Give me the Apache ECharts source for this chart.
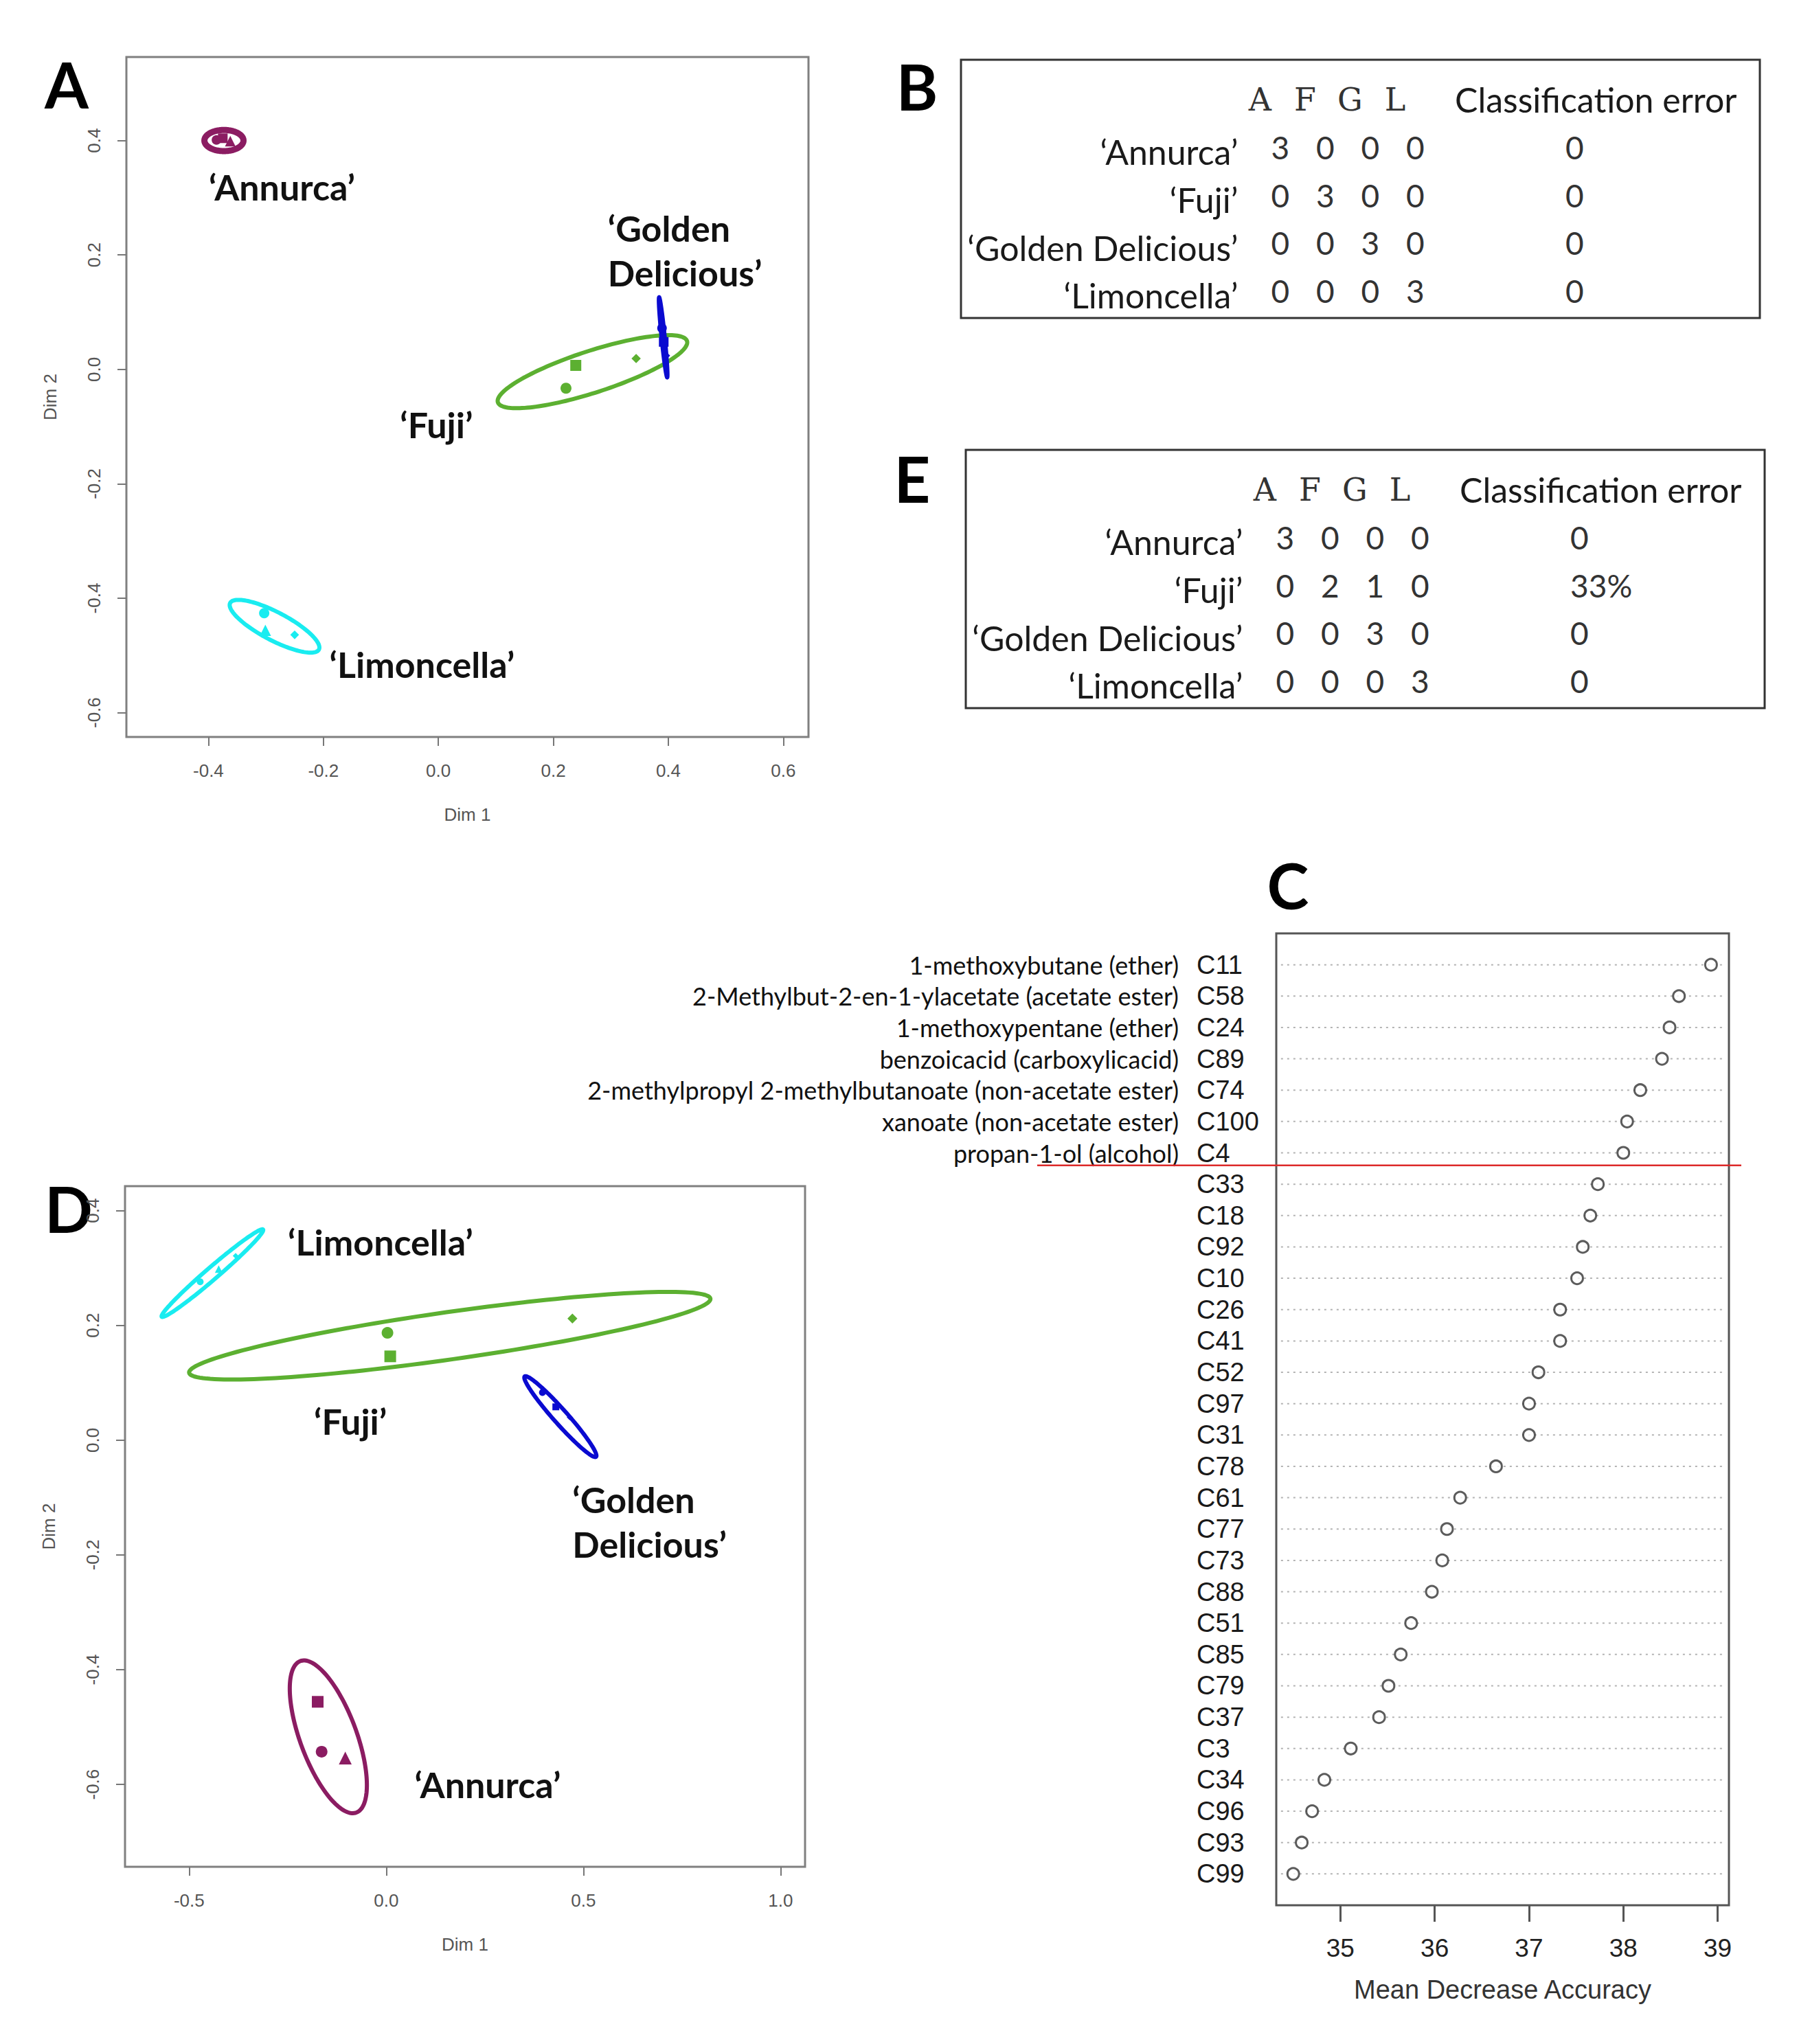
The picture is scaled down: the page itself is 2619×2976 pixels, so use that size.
<!DOCTYPE html>
<html><head><meta charset="utf-8">
<script src="https://cdn.jsdelivr.net/npm/echarts@6/dist/echarts.min.js"></script>
<style>html,body{margin:0;padding:0;background:#fff}#c{width:2619px;height:2976px}</style>
</head><body><div id="c"></div>
<script>
// ================= DATA =================
// Panel A (MDS, Dim 1 / Dim 2) — points and confidence ellipses [cx, cy, majorEndX, majorEndY, minor/major ratio]
const annurcaA_pts = [[-0.386, 0.401], [-0.375, 0.404], [-0.362, 0.399]];
const annurcaA_sym = ['circle', 'rect', 'triangle'];
const fujiA_pts = [[0.239, 0.007], [0.222, -0.033], [0.344, 0.019]];
const fujiA_sym = ['rect', 'circle', 'diamond'];
const goldenA_pts = [[0.389, 0.072], [0.392, 0.048], [0.396, 0.024]];
const goldenA_sym = ['circle', 'rect', 'diamond'];
const limonA_pts = [[-0.303, -0.426], [-0.301, -0.456], [-0.250, -0.464]];
const limonA_sym = ['circle', 'triangle', 'diamond'];
const annurcaA_ell = [-0.373, 0.400, -0.339, 0.400, 0.54];
const fujiA_ell = [0.268, -0.004, 0.4325, 0.0496, 0.21];
const goldenA_ell = [0.391, 0.056, 0.384, 0.126, 0.04];
const limonA_ell = [-0.285, -0.449, -0.2078, -0.4897, 0.28];
const xTicksA = [-0.4, -0.2, 0.0, 0.2, 0.4, 0.6];
const yTicksA = [-0.6, -0.4, -0.2, 0.0, 0.2, 0.4];

// Panel D
const annurcaD_pts = [[-0.174, -0.456], [-0.164, -0.543], [-0.104, -0.554]];
const annurcaD_sym = ['rect', 'circle', 'triangle'];
const fujiD_pts = [[0.003, 0.187], [0.010, 0.146], [0.472, 0.212]];
const fujiD_sym = ['circle', 'rect', 'diamond'];
const goldenD_pts = [[0.396, 0.083], [0.430, 0.058], [0.465, 0.040]];
const goldenD_sym = ['circle', 'rect', 'diamond'];
const limonD_pts = [[-0.472, 0.276], [-0.425, 0.298], [-0.382, 0.321]];
const limonD_sym = ['circle', 'triangle', 'diamond'];
const annurcaD_ell = [-0.147, -0.517, -0.218, -0.385, 0.35];
const fujiD_ell = [0.161, 0.182, 0.822, 0.2465, 0.09];
const goldenD_ell = [0.4415, 0.041, 0.351, 0.111, 0.13];
const limonD_ell = [-0.441, 0.291, -0.3125, 0.367, 0.09];
const xTicksD = [-0.5, 0.0, 0.5, 1.0];
const yTicksD = [-0.6, -0.4, -0.2, 0.0, 0.2, 0.4];

// Panel C (variable importance)
const compoundCodes = ['C11','C58','C24','C89','C74','C100','C4','C33','C18','C92','C10','C26','C41','C52','C97','C31','C78','C61','C77','C73','C88','C51','C85','C79','C37','C3','C34','C96','C93','C99'];
const compoundNames = ['1-methoxybutane (ether)','2-Methylbut-2-en-1-ylacetate (acetate ester)','1-methoxypentane (ether)','benzoicacid (carboxylicacid)','2-methylpropyl 2-methylbutanoate (non-acetate ester)','xanoate (non-acetate ester)','propan-1-ol (alcohol)'];
const meanDecreaseAccuracy = [38.93,38.59,38.49,38.41,38.18,38.04,38.00,37.73,37.65,37.57,37.51,37.33,37.33,37.10,37.00,37.00,36.65,36.27,36.13,36.08,35.97,35.75,35.64,35.51,35.41,35.11,34.83,34.70,34.59,34.50];
const xTicksC = [35, 36, 37, 38, 39];
const cutoffRank = 23.6; // red separator between C4 and C33

// Tables B and E
const tableCols = ['A', 'F', 'G', 'L'];
const tableRows = ['‘Annurca’', '‘Fuji’', '‘Golden Delicious’', '‘Limoncella’'];
const errorHeader = 'Classification error';
const confusionB = [[3,0,0,0],[0,3,0,0],[0,0,3,0],[0,0,0,3]];
const errorB = ['0', '0', '0', '0'];
const confusionE = [[3,0,0,0],[0,2,1,0],[0,0,3,0],[0,0,0,3]];
const errorE = ['0', '33%', '0', '0'];

// ================= STYLE / LAYOUT =================
const COLORS = { annurca: '#8b1c62', fuji: '#5cb031', golden: '#0a0ad0', limon: '#19ecf0' };
const FONT_LABEL = 'Lato, "Open Sans", "DejaVu Sans", sans-serif';
const FONT_AXIS = '"Liberation Sans", Arial, sans-serif';
const FONT_HDR = '"DejaVu Serif", "Liberation Serif", serif';
const C_XMIN = 34.32, C_XMAX = 39.12;
const C_CODE_MARGIN = 116;   // px from plot box to start of code labels
const C_NAME_OFFSET = 142;   // px from plot box to right end of compound names

const chart = echarts.init(document.getElementById('c'), null, { renderer: 'svg', width: 2619, height: 2976 });

function ellipseSeries(ai, ell, color, lw) {
  return {
    type: 'custom', xAxisIndex: ai, yAxisIndex: ai, silent: true, z: 3, clip: false,
    data: [ell],
    renderItem: (params, api) => {
      const c = api.coord([api.value(0), api.value(1)]);
      const e = api.coord([api.value(2), api.value(3)]);
      const r = api.value(4);
      const dx = e[0] - c[0], dy = e[1] - c[1];
      const pts = [];
      for (let k = 0; k <= 160; k++) {
        const t = k / 160 * Math.PI * 2, ct = Math.cos(t), st = Math.sin(t);
        pts.push([c[0] + ct * dx - st * dy * r, c[1] + ct * dy + st * dx * r]);
      }
      return { type: 'polygon', shape: { points: pts }, style: { fill: 'none', stroke: color, lineWidth: lw } };
    }
  };
}
function pointSeries(ai, pts, syms, color, size) {
  return {
    type: 'scatter', xAxisIndex: ai, yAxisIndex: ai, silent: true, z: 4,
    data: pts.map((p, i) => ({ value: p, symbol: syms[i], symbolSize: syms[i] === 'diamond' ? size * 0.85 : (syms[i] === 'triangle' ? size * 1.1 : size) })),
    itemStyle: { color: color, opacity: 1 }
  };
}
function labelSeries(ai, items) {
  return {
    type: 'custom', xAxisIndex: ai, yAxisIndex: ai, silent: true, z: 5, clip: false,
    data: items.map(it => it.pos),
    renderItem: (params, api) => {
      const it = items[params.dataIndex];
      const p = api.coord([api.value(0), api.value(1)]);
      return { type: 'text', x: p[0], y: p[1], style: { text: it.text, fill: '#111', fontFamily: FONT_LABEL, fontWeight: 'bold', fontSize: 52, lineHeight: 65, align: it.align, verticalAlign: 'middle' } };
    }
  };
}
const TABLE_STYLE = {
  hdr: { fontFamily: FONT_HDR, fontSize: 46, align: 'center', fill: '#333' },
  hdr2: { fontFamily: FONT_LABEL, fontSize: 50, align: 'left' },
  row: { fontFamily: FONT_LABEL, fontSize: 50, align: 'right' },
  num: { fontFamily: FONT_LABEL, fontSize: 46, align: 'center', fill: '#333' },
  err: { fontFamily: FONT_LABEL, fontSize: 46, align: 'left', fill: '#333' }
};
function tableSeries(ai, matrix, errors) {
  const cells = [];
  tableCols.forEach((c, j) => cells.push({ pos: [j - 0.45, -1], text: c, kind: 'hdr' }));
  cells.push({ pos: [3.88, -1], text: errorHeader, kind: 'hdr2' });
  tableRows.forEach((r, i) => {
    cells.push({ pos: [-0.94, i + 0.1], text: r, kind: 'row' });
    matrix[i].forEach((v, j) => cells.push({ pos: [j, i], text: String(v), kind: 'num' }));
    cells.push({ pos: [6.34, i], text: errors[i], kind: 'err' });
  });
  return {
    type: 'custom', xAxisIndex: ai, yAxisIndex: ai, silent: true, z: 5, clip: false,
    data: cells.map(c => c.pos),
    renderItem: (params, api) => {
      const c = cells[params.dataIndex];
      const p = api.coord([api.value(0), api.value(1)]);
      const s = TABLE_STYLE[c.kind];
      return { type: 'text', x: p[0], y: p[1], style: Object.assign({ text: c.text, fill: '#1a1a1a', verticalAlign: 'middle' }, s) };
    }
  };
}

function mdsX(min, max, ticks, gi) {
  return {
    type: 'value', gridIndex: gi, min: min, max: max, name: 'Dim 1', nameLocation: 'middle', nameGap: 100,
    nameTextStyle: { fontFamily: FONT_AXIS, fontSize: 26, color: '#555' },
    axisLine: { show: false, onZero: false }, splitLine: { show: false },
    axisTick: { show: true, inside: false, length: 13, customValues: ticks, lineStyle: { color: '#777', width: 2 } },
    axisLabel: { customValues: ticks, margin: 36, fontFamily: FONT_AXIS, fontSize: 26, color: '#555', formatter: v => v.toFixed(1) }
  };
}
function mdsY(min, max, ticks, gi) {
  return {
    type: 'value', gridIndex: gi, min: min, max: max, name: 'Dim 2', nameLocation: 'middle', nameGap: 98,
    nameTextStyle: { fontFamily: FONT_AXIS, fontSize: 26, color: '#555' },
    axisLine: { show: false, onZero: false }, splitLine: { show: false },
    axisTick: { show: true, inside: false, length: 13, customValues: ticks, lineStyle: { color: '#777', width: 2 } },
    axisLabel: { customValues: ticks, margin: 34, rotate: 90, fontFamily: FONT_AXIS, fontSize: 26, color: '#555', formatter: v => v.toFixed(1) }
  };
}

const nC = compoundCodes.length;
const gridBox = { show: true, borderColor: '#808080', borderWidth: 3, backgroundColor: '#fff' };

const option = {
  backgroundColor: '#fff',
  animation: false,
  grid: [
    Object.assign({ left: 184, top: 83, width: 993, height: 990 }, gridBox),            // A
    Object.assign({ left: 182, top: 1727, width: 990, height: 991 }, gridBox),          // D
    Object.assign({ left: 1858, top: 1359, width: 659, height: 1415 }, gridBox, { borderColor: '#555' }), // C
    { left: 1399, top: 87, width: 1163, height: 376, show: true, borderColor: '#333', borderWidth: 3 },   // B
    { left: 1406, top: 655, width: 1163, height: 376, show: true, borderColor: '#333', borderWidth: 3 }   // E
  ],
  xAxis: [
    mdsX(-0.5427, 0.6438, xTicksA, 0),
    mdsX(-0.6626, 1.062, xTicksD, 1),
    {
      type: 'value', gridIndex: 2, min: C_XMIN, max: C_XMAX,
      name: 'Mean Decrease Accuracy', nameLocation: 'middle', nameGap: 104,
      nameTextStyle: { fontFamily: FONT_AXIS, fontSize: 38, color: '#333' },
      axisLine: { show: false, onZero: false }, splitLine: { show: false },
      axisTick: { show: true, inside: false, length: 24, customValues: xTicksC, lineStyle: { color: '#555', width: 3 } },
      axisLabel: { customValues: xTicksC, margin: 44, fontFamily: FONT_AXIS, fontSize: 37, color: '#222' }
    },
    { type: 'value', gridIndex: 3, min: -7.1, max: 10.66, show: false },
    { type: 'value', gridIndex: 4, min: -7.1, max: 10.66, show: false }
  ],
  yAxis: [
    mdsY(-0.6425, 0.546, yTicksA, 0),
    mdsY(-0.7435, 0.4426, yTicksD, 1),
    {
      type: 'value', gridIndex: 2, min: 0, max: nC + 1, interval: 1,
      axisLine: { show: false, onZero: false }, axisTick: { show: false }, splitLine: { show: false },
      axisLabel: {
        margin: C_CODE_MARGIN, align: 'left', fontFamily: FONT_AXIS, fontSize: 38, color: '#1a1a1a',
        formatter: v => { const i = nC - v; return (i >= 0 && i < nC) ? compoundCodes[i] : ''; }
      }
    },
    { type: 'value', gridIndex: 3, min: -1.83, max: 3.57, inverse: true, show: false },
    { type: 'value', gridIndex: 4, min: -1.83, max: 3.57, inverse: true, show: false }
  ],
  series: [
    // Panel A
    ellipseSeries(0, annurcaA_ell, COLORS.annurca, 9),
    ellipseSeries(0, fujiA_ell, COLORS.fuji, 6),
    ellipseSeries(0, goldenA_ell, COLORS.golden, 6),
    ellipseSeries(0, limonA_ell, COLORS.limon, 6),
    pointSeries(0, annurcaA_pts, annurcaA_sym, COLORS.annurca, 14),
    pointSeries(0, fujiA_pts, fujiA_sym, COLORS.fuji, 16),
    pointSeries(0, goldenA_pts, goldenA_sym, COLORS.golden, 14),
    pointSeries(0, limonA_pts, limonA_sym, COLORS.limon, 15),
    labelSeries(0, [
      { text: '‘Annurca’', pos: [-0.272, 0.319], align: 'center' },
      { text: '‘Golden\nDelicious’', pos: [0.2945, 0.208], align: 'left' },
      { text: '‘Fuji’', pos: [-0.0034, -0.096], align: 'center' },
      { text: '‘Limoncella’', pos: [-0.0285, -0.515], align: 'center' }
    ]),
    // Panel D
    ellipseSeries(1, annurcaD_ell, COLORS.annurca, 6),
    ellipseSeries(1, fujiD_ell, COLORS.fuji, 6),
    ellipseSeries(1, goldenD_ell, COLORS.golden, 6),
    ellipseSeries(1, limonD_ell, COLORS.limon, 6),
    pointSeries(1, annurcaD_pts, annurcaD_sym, COLORS.annurca, 17),
    pointSeries(1, fujiD_pts, fujiD_sym, COLORS.fuji, 17),
    pointSeries(1, goldenD_pts, goldenD_sym, COLORS.golden, 10),
    pointSeries(1, limonD_pts, limonD_sym, COLORS.limon, 10),
    labelSeries(1, [
      { text: '‘Limoncella’', pos: [-0.0147, 0.3455], align: 'center' },
      { text: '‘Fuji’', pos: [-0.091, 0.0335], align: 'center' },
      { text: '‘Golden\nDelicious’', pos: [0.472, -0.1415], align: 'left' },
      { text: '‘Annurca’', pos: [0.257, -0.60], align: 'center' }
    ]),
    // Panel C: dotted row guides
    {
      type: 'custom', xAxisIndex: 2, yAxisIndex: 2, silent: true, z: 2,
      data: meanDecreaseAccuracy.map((v, i) => [v, nC - i]),
      renderItem: (params, api) => {
        const y = api.value(1);
        const a = api.coord([C_XMIN + 0.05, y]), b = api.coord([C_XMAX - 0.03, y]);
        return { type: 'line', shape: { x1: a[0], y1: a[1], x2: b[0], y2: b[1] }, style: { stroke: '#b4b4b4', lineWidth: 2, lineDash: [3, 6] } };
      }
    },
    // Panel C: compound names for the selected variables
    {
      type: 'custom', xAxisIndex: 2, yAxisIndex: 2, silent: true, z: 5, clip: false,
      data: compoundNames.map((n, i) => [C_XMIN, nC - i]),
      renderItem: (params, api) => {
        const p = api.coord([api.value(0), api.value(1)]);
        return { type: 'text', x: p[0] - C_NAME_OFFSET, y: p[1], style: { text: compoundNames[params.dataIndex], fill: '#111', fontFamily: FONT_LABEL, fontSize: 36, align: 'right', verticalAlign: 'middle' } };
      }
    },
    // Panel C: dots
    {
      type: 'scatter', xAxisIndex: 2, yAxisIndex: 2, silent: true, z: 4,
      data: meanDecreaseAccuracy.map((v, i) => [v, nC - i]),
      symbol: 'circle', symbolSize: 17,
      itemStyle: { color: '#fff', borderColor: '#333', borderWidth: 3 }
    },
    // Tables
    tableSeries(3, confusionB, errorB),
    tableSeries(4, confusionE, errorE)
  ],
  graphic: [
    { type: 'text', x: 97, y: 122, style: { text: 'A', fontFamily: FONT_LABEL, fontWeight: 'bold', fontSize: 92, fill: '#000', align: 'center', verticalAlign: 'middle' } },
    { type: 'text', x: 1335, y: 125, style: { text: 'B', fontFamily: FONT_LABEL, fontWeight: 'bold', fontSize: 92, fill: '#000', align: 'center', verticalAlign: 'middle' } },
    { type: 'text', x: 1328, y: 696, style: { text: 'E', fontFamily: FONT_LABEL, fontWeight: 'bold', fontSize: 92, fill: '#000', align: 'center', verticalAlign: 'middle' } },
    { type: 'text', x: 1875, y: 1288, style: { text: 'C', fontFamily: FONT_LABEL, fontWeight: 'bold', fontSize: 92, fill: '#000', align: 'center', verticalAlign: 'middle' } },
    { type: 'text', x: 100, y: 1759, style: { text: 'D', fontFamily: FONT_LABEL, fontWeight: 'bold', fontSize: 92, fill: '#000', align: 'center', verticalAlign: 'middle' } }
  ]
};
chart.setOption(option);

// red separator line (positioned through the dot-chart scale)
const yCut = chart.convertToPixel({ xAxisIndex: 2, yAxisIndex: 2 }, [35, cutoffRank])[1];
chart.setOption({
  graphic: option.graphic.concat([
    { type: 'line', z: 100, shape: { x1: 1510, y1: yCut, x2: 2535, y2: yCut }, style: { stroke: '#dd2a2a', lineWidth: 2.5 } }
  ])
});
</script>
</body></html>
